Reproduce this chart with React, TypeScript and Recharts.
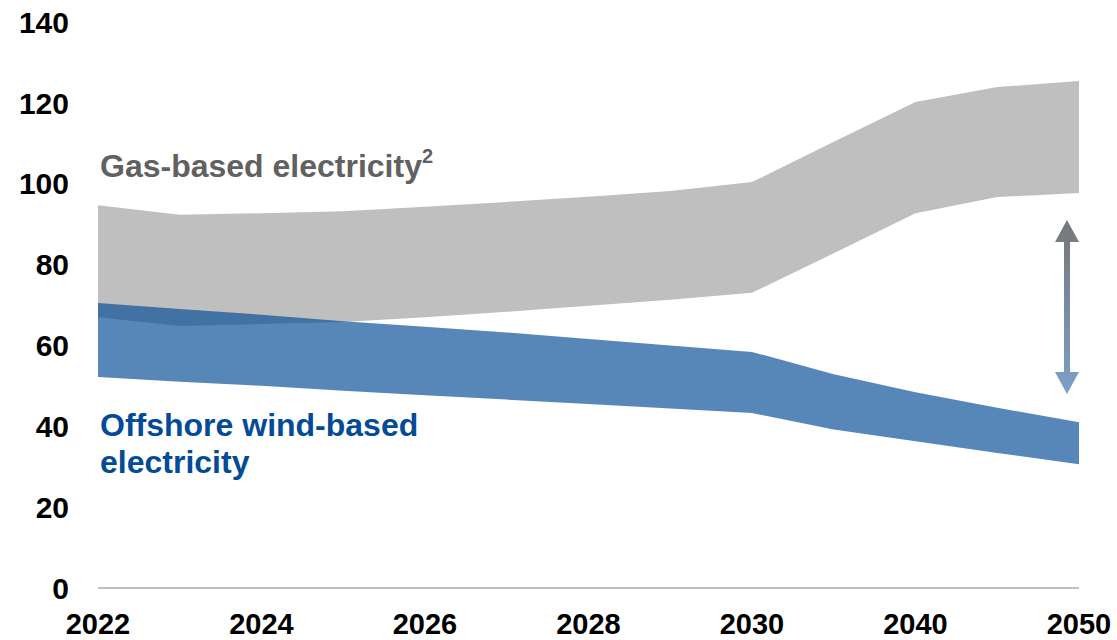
import { AreaChart, Area, XAxis, YAxis, ReferenceLine, Customized } from "recharts";

const years = ["2022", "2023", "2024", "2025", "2026", "2027", "2028", "2029", "2030", "2035", "2040", "2045", "2050"];
const gasLow = [67.0, 64.8, 65.3, 65.8, 67.0, 68.3, 69.8, 71.3, 73.0, 82.8, 92.7, 96.7, 97.7];
const gasHigh = [94.7, 92.3, 92.7, 93.2, 94.3, 95.5, 96.8, 98.2, 100.4, 110.4, 120.2, 123.9, 125.4];
const windLow = [52.2, 51.0, 50.0, 48.8, 47.7, 46.6, 45.5, 44.4, 43.3, 39.2, 36.3, 33.4, 30.6];
const windHigh = [70.5, 69.0, 67.6, 66.0, 64.6, 63.2, 61.6, 60.0, 58.4, 52.9, 48.4, 44.6, 41.0];
const yTicks = [0, 20, 40, 60, 80, 100, 120, 140];
const arrowRange = [91, 48];

const data = years.map((year, i) => ({
  year,
  gas: [gasLow[i], gasHigh[i]],
  wind: [windLow[i], windHigh[i]],
}));

const font = "'Liberation Sans', Arial, sans-serif";

const Arrow = (props: any) => {
  const { x1, y1, y2 } = props;
  const x = x1 - 12;
  const top = Math.min(y1, y2);
  const bottom = Math.max(y1, y2);
  const head = 22;
  return (
    <g>
      <defs>
        <linearGradient id="arrowGrad" x1="0" y1="0" x2="0" y2="1">
          <stop offset="0%" stopColor="#777777" />
          <stop offset="100%" stopColor="#7aa0c9" />
        </linearGradient>
      </defs>
      <path
        d={`M${x},${top} L${x + 12},${top + head} L${x + 3},${top + head} L${x + 3},${bottom - head} L${x + 12},${bottom - head} L${x},${bottom} L${x - 12},${bottom - head} L${x - 3},${bottom - head} L${x - 3},${top + head} L${x - 12},${top + head} Z`}
        fill="url(#arrowGrad)"
      />
    </g>
  );
};

const Labels = () => (
  <g fontFamily={font} fontWeight="bold" fontSize={32}>
    <text x={100} y={177} fill="#616161">
      Gas-based electricity
      <tspan fontSize={20} dy={-14}>2</tspan>
    </text>
    <text x={100} y={436} fill="#034b96">Offshore wind-based</text>
    <text x={100} y={473} fill="#034b96">electricity</text>
  </g>
);

export default function App() {
  return (
    <div style={{ position: "absolute", left: 0, top: 0, background: "#fff" }}>
      <AreaChart width={1117} height={640} data={data} margin={{ top: 22, right: 38, bottom: 0, left: 0 }}>
        <XAxis
          dataKey="year"
          interval={1}
          tickLine={false}
          tickSize={0}
          tickMargin={25}
          height={52}
          axisLine={{ stroke: "#bfbfbf", strokeWidth: 2 }}
          tick={{ fill: "#000", fontSize: 29, fontWeight: "bold", fontFamily: font }}
        />
        <YAxis
          domain={[0, 140]}
          ticks={yTicks}
          width={98}
          axisLine={false}
          tickLine={false}
          tickSize={0}
          tickMargin={29}
          tick={{ fill: "#000", fontSize: 30, fontWeight: "bold", fontFamily: font }}
        />
        <Area
          type="linear"
          dataKey="gas"
          stroke="none"
          fill="#bfbfbf"
          fillOpacity={1}
          isAnimationActive={false}
        />
        <Area
          type="linear"
          dataKey="wind"
          stroke="none"
          fill="#054c95"
          fillOpacity={0.67}
          isAnimationActive={false}
        />
        <ReferenceLine
          segment={[
            { x: "2050", y: arrowRange[0] },
            { x: "2050", y: arrowRange[1] },
          ]}
          shape={<Arrow />}
        />
        <Customized component={<Labels />} />
      </AreaChart>
    </div>
  );
}
